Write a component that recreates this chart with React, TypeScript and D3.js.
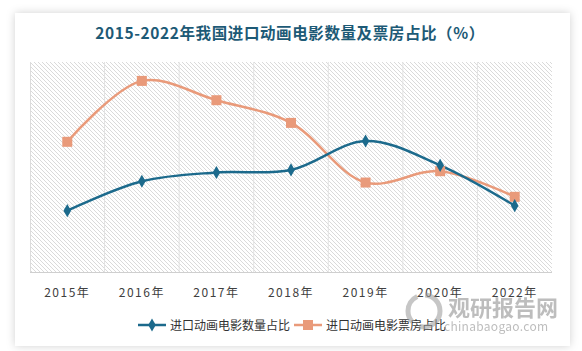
import React, { useEffect, useRef } from "react";
import * as d3 from "d3";

const years = ["2015年", "2016年", "2017年", "2018年", "2019年", "2020年", "2022年"];
const countShare = [14.6, 21.6, 23.7, 24.3, 31.2, 25.4, 15.8];
const boxOfficeShare = [31.0, 45.5, 40.9, 35.5, 21.3, 24.0, 17.9];
const seriesNames = ["进口动画电影数量占比", "进口动画电影票房占比"];
const title = "2015-2022年我国进口动画电影数量及票房占比（%）";

const W = 582;
const H = 351;
const font = "'Noto Sans CJK SC', 'Noto Sans', sans-serif";

export default function App() {
  const svgRef = useRef<SVGSVGElement>(null);

  useEffect(() => {
    const svg = d3.select(svgRef.current);
    svg.selectAll("*").remove();

    const left = 30, right = 552, top = 62, bottom = 272;
    const blue = "#1c6a8c";
    const orange = "#e99a7a";

    const defs = svg.append("defs");
    const f = defs.append("filter").attr("id", "sh").attr("x", "-5%").attr("y", "-5%").attr("width", "110%").attr("height", "110%");
    f.append("feDropShadow").attr("dx", 0).attr("dy", 0).attr("stdDeviation", 4).attr("flood-color", "#000").attr("flood-opacity", 0.18);

    const pat = defs.append("pattern").attr("id", "hatch").attr("patternUnits", "userSpaceOnUse").attr("width", 4).attr("height", 4);
    pat.append("path").attr("d", "M-1,-1 L5,5 M3,-1 L5,1 M-1,3 L1,5").attr("stroke", "#d6d6d6").attr("stroke-width", 0.9);

    svg.append("rect").attr("width", W).attr("height", H).attr("fill", "#fff");
    svg.append("rect").attr("x", 15).attr("y", 13).attr("width", 555).attr("height", 333).attr("fill", "#fff").attr("filter", "url(#sh)");

    svg.append("text").attr("x", 290).attr("y", 39).attr("text-anchor", "middle")
      .attr("font-family", font).attr("font-size", 15.5).attr("font-weight", "bold").attr("fill", "#1d5a76")
      .attr("letter-spacing", 0.6).text(title);

    const x = d3.scaleBand().domain(years).range([left, right]);
    const y = d3.scaleLinear().domain([0, 50]).range([bottom, top]);

    svg.append("rect").attr("x", left).attr("y", top).attr("width", right - left).attr("height", bottom - top).attr("fill", "url(#hatch)");

    const g = svg.append("g");
    g.selectAll("line.grid").data(years.slice(1)).join("line").attr("class", "grid")
      .attr("x1", (d) => x(d)!).attr("x2", (d) => x(d)!).attr("y1", top).attr("y2", bottom)
      .attr("stroke", "#e2e2e2").attr("stroke-width", 1);
    g.append("line").attr("x1", left).attr("x2", right).attr("y1", bottom + 0.5).attr("y2", bottom + 0.5).attr("stroke", "#cfcfcf");
    g.append("line").attr("x1", left + 0.5).attr("x2", left + 0.5).attr("y1", top).attr("y2", bottom).attr("stroke", "#dcdcdc");

    g.selectAll("text.tick").data(years).join("text").attr("class", "tick")
      .attr("x", (d) => x(d)! + x.bandwidth() / 2).attr("y", 297).attr("text-anchor", "middle")
      .attr("font-family", font).attr("font-size", 12).attr("letter-spacing", 1.5).attr("fill", "#404040")
      .text((d) => d);

    const cx = (i: number) => x(years[i])! + x.bandwidth() / 2;
    const line = d3.line<number>().x((_, i) => cx(i)).y((d) => y(d)).curve(d3.curveCatmullRom.alpha(0.5));

    g.append("path").datum(boxOfficeShare).attr("d", line).attr("fill", "none").attr("stroke", orange).attr("stroke-width", 2.5);
    g.append("path").datum(countShare).attr("d", line).attr("fill", "none").attr("stroke", blue).attr("stroke-width", 2.5);

    g.selectAll("rect.sq").data(boxOfficeShare).join("rect").attr("class", "sq")
      .attr("x", (_, i) => cx(i) - 5).attr("y", (d) => y(d) - 5).attr("width", 10).attr("height", 10).attr("fill", orange);
    const diamond = d3.symbol().type(d3.symbolDiamond).size(50);
    g.selectAll("path.dm").data(countShare).join("path").attr("class", "dm")
      .attr("transform", (d, i) => `translate(${cx(i)},${y(d)})`).attr("d", diamond).attr("fill", blue);

    // legend
    const lg = svg.append("g");
    const items = [
      { name: seriesNames[0], color: blue, x0: 138, shape: "diamond" },
      { name: seriesNames[1], color: orange, x0: 294, shape: "square" },
    ];
    const ly = 325;
    items.forEach((it) => {
      lg.append("line").attr("x1", it.x0).attr("x2", it.x0 + 28).attr("y1", ly).attr("y2", ly).attr("stroke", it.color).attr("stroke-width", 2.5);
      if (it.shape === "diamond") {
        lg.append("path").attr("transform", `translate(${it.x0 + 14},${ly})`).attr("d", diamond).attr("fill", it.color);
      } else {
        lg.append("rect").attr("x", it.x0 + 9).attr("y", ly - 5).attr("width", 10).attr("height", 10).attr("fill", it.color);
      }
      lg.append("text").attr("x", it.x0 + 32).attr("y", ly + 4.5).attr("font-family", font).attr("font-size", 12)
        .attr("fill", "#333").text(it.name);
    });

    // watermark
    const wm = svg.append("g").attr("opacity", 0.55);
    wm.append("circle").attr("cx", 424).attr("cy", 311).attr("r", 16).attr("fill", "none").attr("stroke", "#999").attr("stroke-width", 5).attr("stroke-dasharray", "30 8");
    wm.append("text").attr("x", 448).attr("y", 316).attr("font-family", font).attr("font-size", 22).attr("font-weight", "bold").attr("fill", "#888").text("观研报告网");
    wm.append("text").attr("x", 444).attr("y", 331).attr("font-family", font).attr("font-size", 12).attr("fill", "#888").attr("letter-spacing", 0.3).text("chinabaogao.com");
  }, []);

  return (
    <svg ref={svgRef} width={W} height={H} style={{ position: "absolute", left: 0, top: 0, display: "block" }} />
  );
}
